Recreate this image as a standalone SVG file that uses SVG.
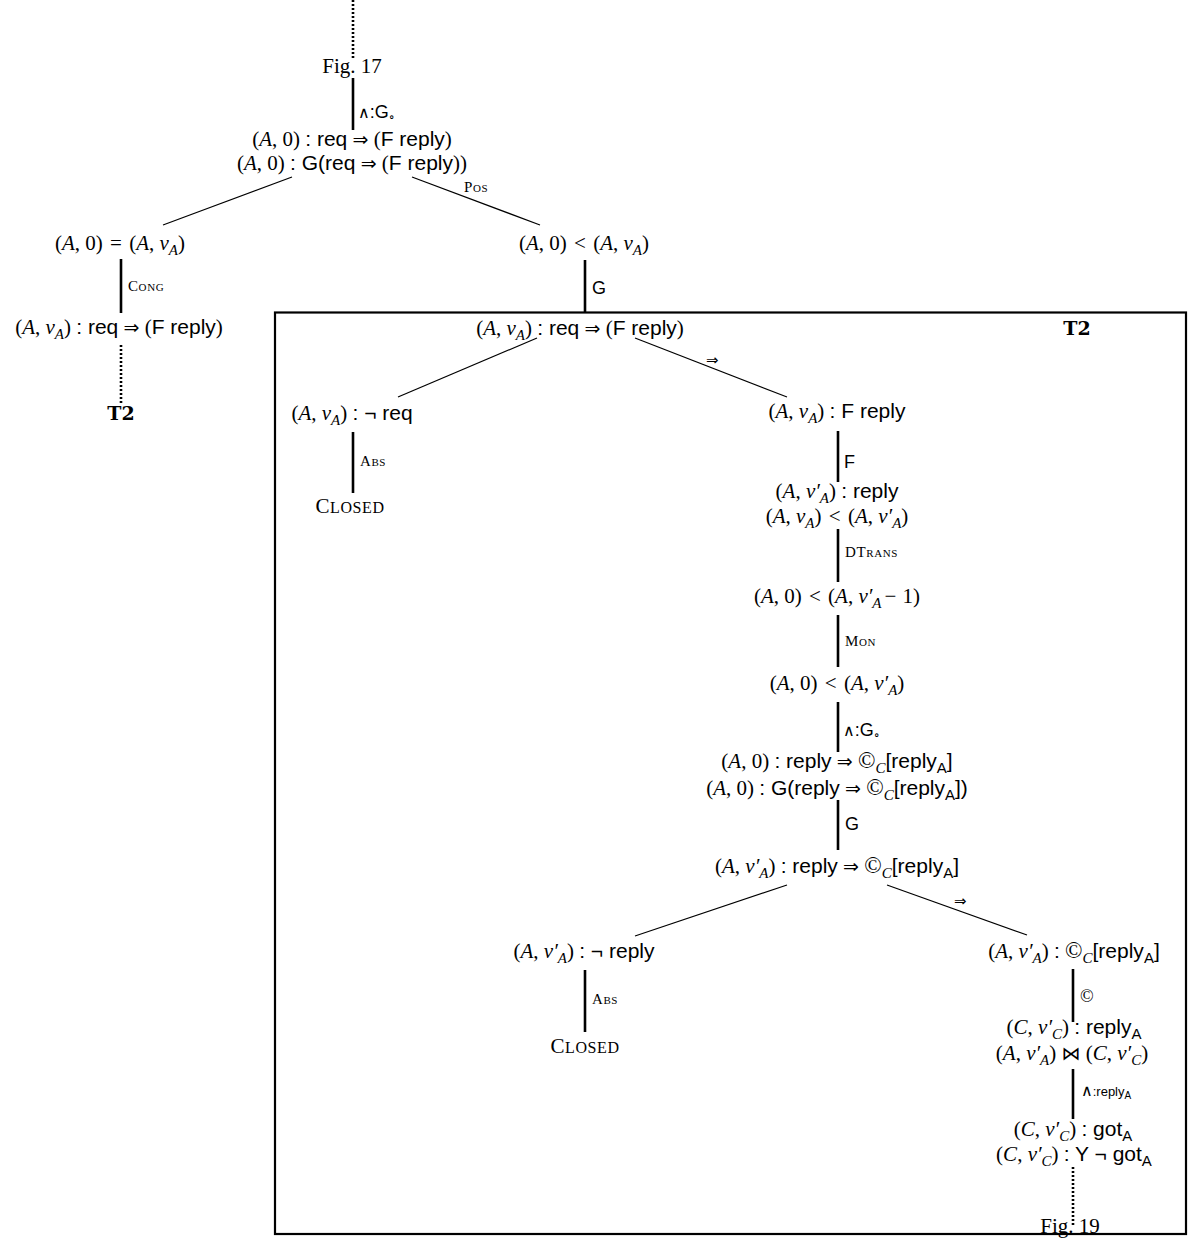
<svg xmlns="http://www.w3.org/2000/svg" width="1192" height="1239" viewBox="0 0 1192 1239">
<style>
.m{font-family:"Liberation Serif","DejaVu Serif",serif;font-size:21px;text-anchor:middle;fill:#000}
.i{font-style:italic}
.s{font-family:"Liberation Sans","DejaVu Sans",sans-serif}
.r{font-family:"DejaVu Sans",sans-serif;font-size:19px}
.sb{font-size:15px}
.lab{font-family:"Liberation Serif","DejaVu Serif",serif;font-size:15px;font-variant:small-caps;letter-spacing:0.6px;fill:#000}
.lbl{font-family:"Liberation Serif","DejaVu Serif",serif;font-size:15px;fill:#000}
.arr{font-family:"DejaVu Sans",sans-serif;font-size:15px;fill:#000}
.and{font-family:"DejaVu Sans",sans-serif;font-size:16px}
.slab{font-family:"Liberation Sans","DejaVu Sans",sans-serif;font-size:18px;fill:#000}
.cl{font-family:"Liberation Serif","DejaVu Serif",serif;font-size:21px;text-anchor:middle;fill:#000;letter-spacing:0.6px}
.bold{font-family:"DejaVu Serif","Liberation Serif",serif;font-size:19px;font-weight:bold;text-anchor:middle;fill:#000}
.edge{stroke:#000;stroke-width:1.2;fill:none}
.rule{stroke:#000;stroke-width:2.6;fill:none}
.dot{stroke:#000;stroke-width:2.6;stroke-dasharray:2 2;fill:none}
</style>
<g id="connectors">
<line class="dot" x1="353" y1="0" x2="353" y2="60"/>
<line class="rule" x1="353" y1="78" x2="353" y2="130"/>
<line class="edge" x1="292" y1="177" x2="163" y2="225"/>
<line class="edge" x1="412" y1="177" x2="540" y2="225"/>
<line class="rule" x1="121" y1="259" x2="121" y2="313"/>
<line class="dot" x1="121" y1="345" x2="121" y2="405"/>
<line class="rule" x1="585" y1="260" x2="585" y2="312"/>
<line class="edge" x1="537" y1="338" x2="398" y2="397"/>
<line class="edge" x1="635" y1="338" x2="787" y2="397"/>
<line class="rule" x1="353" y1="432" x2="353" y2="493"/>
<line class="rule" x1="838" y1="431" x2="838" y2="482"/>
<line class="rule" x1="838" y1="529" x2="838" y2="582"/>
<line class="rule" x1="838" y1="615" x2="838" y2="667"/>
<line class="rule" x1="838" y1="702" x2="838" y2="752"/>
<line class="rule" x1="838" y1="800" x2="838" y2="850"/>
<line class="edge" x1="787" y1="885" x2="635" y2="936"/>
<line class="edge" x1="887" y1="885" x2="1027" y2="935"/>
<line class="rule" x1="585" y1="970" x2="585" y2="1032"/>
<line class="rule" x1="1073" y1="969" x2="1073" y2="1022"/>
<line class="rule" x1="1073" y1="1069" x2="1073" y2="1119"/>
<line class="dot" x1="1073" y1="1167" x2="1073" y2="1225"/>
</g>
<g id="box"><rect x="275" y="312.5" width="911" height="921.5" fill="none" stroke="#000" stroke-width="2.2"/></g>
<g id="labels">
<text class="lbl" x="358" y="118"><tspan class="and">∧</tspan><tspan class="s" style="font-size:18px">:G</tspan><tspan style="font-size:12px" dy="3">∘</tspan></text>
<text class="lab" x="464" y="192">Pos</text>
<text class="lab" x="128" y="291">Cong</text>
<text class="slab" x="592" y="294">G</text>
<text class="arr" x="706" y="365">⇒</text>
<text class="lab" x="360" y="466">Abs</text>
<text class="slab" x="844" y="468">F</text>
<text class="lab" x="845" y="557">DTrans</text>
<text class="lab" x="845" y="646">Mon</text>
<text class="lbl" x="843" y="736"><tspan class="and">∧</tspan><tspan class="s" style="font-size:18px">:G</tspan><tspan style="font-size:12px" dy="3">∘</tspan></text>
<text class="slab" x="845" y="830">G</text>
<text class="arr" x="954" y="906">⇒</text>
<text class="lab" x="592" y="1004">Abs</text>
<text class="lbl" x="1080" y="1002" style="font-size:18px">©</text>
<text class="lbl" x="1081" y="1096"><tspan class="and">∧</tspan><tspan class="s" style="font-size:13px">:reply</tspan><tspan class="s" style="font-size:10px" dy="3">A</tspan></text>
</g>
<g id="n-fig17"><text class="m" x="352" y="73">Fig. 17</text></g>
<g id="n-root">
<text class="m" x="352" y="146">(<tspan class="i">A</tspan>, 0) <tspan class="s">: req</tspan> <tspan class="r">⇒</tspan> (<tspan class="s">F reply</tspan>)</text>
<text class="m" x="352" y="170">(<tspan class="i">A</tspan>, 0) <tspan class="s">: G(req</tspan> <tspan class="r">⇒</tspan> (<tspan class="s">F reply</tspan>))</text>
</g>
<g id="n-eq"><text class="m" x="120" y="250">(<tspan class="i">A</tspan>, 0) <tspan dx="2">=</tspan> <tspan dx="2">(</tspan><tspan class="i">A</tspan>, <tspan class="i">v</tspan><tspan class="i sb" dy="5">A</tspan><tspan dy="-5">)</tspan></text></g>
<g id="n-left-req"><text class="m" x="119" y="334">(<tspan class="i">A</tspan>, <tspan class="i">v</tspan><tspan class="i sb" dy="5">A</tspan><tspan dy="-5">)</tspan> <tspan class="s">: req</tspan> <tspan class="r">⇒</tspan> (<tspan class="s">F reply</tspan>)</text></g>
<g id="n-t2-left"><text class="bold" x="121" y="420">T2</text></g>
<g id="n-lt"><text class="m" x="584" y="250">(<tspan class="i">A</tspan>, 0) <tspan dx="2">&lt;</tspan> <tspan dx="2">(</tspan><tspan class="i">A</tspan>, <tspan class="i">v</tspan><tspan class="i sb" dy="5">A</tspan><tspan dy="-5">)</tspan></text></g>
<g id="n-box-root"><text class="m" x="580" y="335">(<tspan class="i">A</tspan>, <tspan class="i">v</tspan><tspan class="i sb" dy="5">A</tspan><tspan dy="-5">)</tspan> <tspan class="s">: req</tspan> <tspan class="r">⇒</tspan> (<tspan class="s">F reply</tspan>)</text></g>
<g id="n-t2-box"><text class="bold" x="1077" y="335">T2</text></g>
<g id="n-notreq"><text class="m" x="352" y="420">(<tspan class="i">A</tspan>, <tspan class="i">v</tspan><tspan class="i sb" dy="5">A</tspan><tspan dy="-5">)</tspan> <tspan class="s">: ¬ req</tspan></text></g>
<g id="n-closed1"><text class="cl" x="350" y="513">C<tspan style="font-size:16px">LOSED</tspan></text></g>
<g id="n-freply"><text class="m" x="837" y="418">(<tspan class="i">A</tspan>, <tspan class="i">v</tspan><tspan class="i sb" dy="5">A</tspan><tspan dy="-5">)</tspan> <tspan class="s">: F reply</tspan></text></g>
<g id="n-reply">
<text class="m" x="837" y="498">(<tspan class="i">A</tspan>, <tspan class="i">v′</tspan><tspan class="i sb" dy="5">A</tspan><tspan dy="-5">)</tspan> <tspan class="s">: reply</tspan></text>
<text class="m" x="837" y="523">(<tspan class="i">A</tspan>, <tspan class="i">v</tspan><tspan class="i sb" dy="5">A</tspan><tspan dy="-5">)</tspan> <tspan dx="2">&lt;</tspan> <tspan dx="2">(</tspan><tspan class="i">A</tspan>, <tspan class="i">v′</tspan><tspan class="i sb" dy="5">A</tspan><tspan dy="-5">)</tspan></text>
</g>
<g id="n-dtrans"><text class="m" x="837" y="603">(<tspan class="i">A</tspan>, 0) <tspan dx="2">&lt;</tspan> <tspan dx="2">(</tspan><tspan class="i">A</tspan>, <tspan class="i">v′</tspan><tspan class="i sb" dy="5">A</tspan><tspan dy="-5" dx="3">−</tspan> <tspan dx="1">1)</tspan></text></g>
<g id="n-mon"><text class="m" x="837" y="690">(<tspan class="i">A</tspan>, 0) <tspan dx="2">&lt;</tspan> <tspan dx="2">(</tspan><tspan class="i">A</tspan>, <tspan class="i">v′</tspan><tspan class="i sb" dy="5">A</tspan><tspan dy="-5">)</tspan></text></g>
<g id="n-g2">
<text class="m" x="837" y="768">(<tspan class="i">A</tspan>, 0) <tspan class="s">: reply</tspan> <tspan class="r">⇒</tspan> <tspan style="font-size:23px">©</tspan><tspan class="i sb" dy="5">C</tspan><tspan class="s" dy="-5">[reply</tspan><tspan class="s sb" dy="5">A</tspan><tspan class="s" dy="-5">]</tspan></text>
<text class="m" x="837" y="795">(<tspan class="i">A</tspan>, 0) <tspan class="s">: G(reply</tspan> <tspan class="r">⇒</tspan> <tspan style="font-size:23px">©</tspan><tspan class="i sb" dy="5">C</tspan><tspan class="s" dy="-5">[reply</tspan><tspan class="s sb" dy="5">A</tspan><tspan class="s" dy="-5">])</tspan></text>
</g>
<g id="n-impl2"><text class="m" x="837" y="873">(<tspan class="i">A</tspan>, <tspan class="i">v′</tspan><tspan class="i sb" dy="5">A</tspan><tspan dy="-5">)</tspan> <tspan class="s">: reply</tspan> <tspan class="r">⇒</tspan> <tspan style="font-size:23px">©</tspan><tspan class="i sb" dy="5">C</tspan><tspan class="s" dy="-5">[reply</tspan><tspan class="s sb" dy="5">A</tspan><tspan class="s" dy="-5">]</tspan></text></g>
<g id="n-notreply"><text class="m" x="584" y="958">(<tspan class="i">A</tspan>, <tspan class="i">v′</tspan><tspan class="i sb" dy="5">A</tspan><tspan dy="-5">)</tspan> <tspan class="s">: ¬ reply</tspan></text></g>
<g id="n-closed2"><text class="cl" x="585" y="1053">C<tspan style="font-size:16px">LOSED</tspan></text></g>
<g id="n-know"><text class="m" x="1074" y="958">(<tspan class="i">A</tspan>, <tspan class="i">v′</tspan><tspan class="i sb" dy="5">A</tspan><tspan dy="-5">)</tspan> <tspan class="s">:</tspan> <tspan style="font-size:23px">©</tspan><tspan class="i sb" dy="5">C</tspan><tspan class="s" dy="-5">[reply</tspan><tspan class="s sb" dy="5">A</tspan><tspan class="s" dy="-5">]</tspan></text></g>
<g id="n-creply">
<text class="m" x="1074" y="1034">(<tspan class="i">C</tspan>, <tspan class="i">v′</tspan><tspan class="i sb" dy="5">C</tspan><tspan dy="-5">)</tspan> <tspan class="s">: reply</tspan><tspan class="s sb" dy="5">A</tspan></text>
<text class="m" x="1072" y="1060">(<tspan class="i">A</tspan>, <tspan class="i">v′</tspan><tspan class="i sb" dy="5">A</tspan><tspan dy="-5">)</tspan> <tspan class="r">⋈</tspan> (<tspan class="i">C</tspan>, <tspan class="i">v′</tspan><tspan class="i sb" dy="5">C</tspan><tspan dy="-5">)</tspan></text>
</g>
<g id="n-got">
<text class="m" x="1073" y="1136">(<tspan class="i">C</tspan>, <tspan class="i">v′</tspan><tspan class="i sb" dy="5">C</tspan><tspan dy="-5">)</tspan> <tspan class="s">: got</tspan><tspan class="s sb" dy="5">A</tspan></text>
<text class="m" x="1074" y="1161">(<tspan class="i">C</tspan>, <tspan class="i">v′</tspan><tspan class="i sb" dy="5">C</tspan><tspan dy="-5">)</tspan> <tspan class="s">: Y ¬ got</tspan><tspan class="s sb" dy="5">A</tspan></text>
</g>
<g id="n-fig19"><text class="m" x="1070" y="1233">Fig. 19</text></g>
</svg>
